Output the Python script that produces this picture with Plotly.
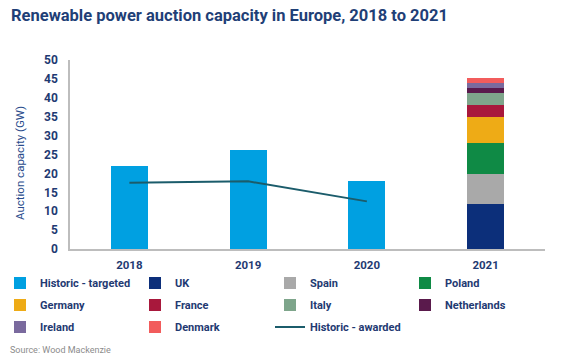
import plotly.graph_objects as go

years_hist = ["2018", "2019", "2020"]
hist_targeted = [22.0, 26.3, 18.1]
hist_awarded = [17.5, 17.9, 12.6]

year_2021 = ["2021"]
countries = ["UK", "Spain", "Poland", "Germany", "France", "Italy", "Netherlands", "Ireland", "Denmark"]
country_values = [11.9, 7.9, 8.2, 6.9, 3.3, 3.2, 1.2, 1.4, 1.2]
country_colors = ["#0c2f7a", "#a9a9a9", "#0f8a45", "#eeab16", "#a8183c", "#7ea58b", "#5a1a4c", "#7a6a9e", "#f25c5c"]
country_legend_rows = ["legend", "legend", "legend", "legend2", "legend2", "legend2", "legend2", "legend3", "legend3"]

categories = ["2018", "2019", "2020", "2021"]
y_ticks = [0, 5, 10, 15, 20, 25, 30, 35, 40, 45, 50]

FONT = "Roboto"
DARK = "#1f3a72"
W, H = 568, 360
L, R, T, B = 70, 23, 60, 111
PW, PH = W - L - R, H - T - B

def px_x(px):
    return (px - L) / PW

def px_y(py):
    return (H - B - py) / PH

fig = go.Figure()
fig.add_trace(go.Bar(x=years_hist, y=hist_targeted, name="Historic - targeted", legend="legend",
                     marker=dict(color="#00a0e1", line=dict(width=0))))
for name, val, col, lg in zip(countries, country_values, country_colors, country_legend_rows):
    fig.add_trace(go.Bar(x=year_2021, y=[val], name=name, legend=lg,
                         marker=dict(color=col, line=dict(width=0))))
fig.add_trace(go.Scatter(x=years_hist, y=hist_awarded, name="Historic - awarded", legend="legend3",
                         mode="lines", line=dict(color="#1b5c6b", width=2)))

legend_common = dict(orientation="h", xref="paper", yref="paper",
                     x=px_x(0), xanchor="left", yanchor="middle",
                     entrywidth=90, entrywidthmode="pixels", itemwidth=30,
                     font=dict(family=FONT, size=11, color=DARK, weight="bold"),
                     traceorder="normal", bgcolor="rgba(0,0,0,0)")

fig.update_layout(
    width=W, height=H,
    margin=dict(l=L, r=R, t=T, b=B, autoexpand=False),
    paper_bgcolor="white", plot_bgcolor="white",
    barmode="stack", bargap=0.69,
    font=dict(family=FONT, color=DARK),
    title=dict(text="<b>Renewable power auction capacity in Europe, 2018 to 2021</b>",
               x=11/W, xanchor="left", xref="container",
               y=1 - 15/H, yanchor="middle", yref="container",
               font=dict(family=FONT, size=16.5, color="#1f3f77")),
    showlegend=True,
    legend=dict(legend_common, y=px_y(283)),
    legend2=dict(legend_common, y=px_y(305)),
    legend3=dict(legend_common, y=px_y(327)),
    xaxis=dict(type="category", categoryorder="array", categoryarray=categories,
               showline=True, linecolor="#bdbdbd", linewidth=1.5, ticks="",
               ticklabelstandoff=4,
               showgrid=False, tickfont=dict(family=FONT, size=11.5, color=DARK, weight="bold")),
    yaxis=dict(range=[0, 50], tickvals=y_ticks, showline=True, linecolor="#bdbdbd",
               linewidth=1.5, showgrid=False, zeroline=False, ticks="",
               ticklabelstandoff=8,
               tickfont=dict(family=FONT, size=12, color=DARK, weight="bold")),
    annotations=[
        dict(text="Auction capacity (GW)", textangle=-90, xref="paper", yref="paper",
             x=px_x(20), y=px_y(163), xanchor="center", yanchor="middle",
             showarrow=False, font=dict(family=FONT, size=11.5, color="#2a4c8c")),
        dict(text="Source: Wood Mackenzie", xref="paper", yref="paper",
             x=px_x(8), y=px_y(350), xanchor="left", yanchor="middle",
             showarrow=False, font=dict(family=FONT, size=9, color="#8c8c8c")),
    ],
)

fig.write_html("out.html", config={"displayModeBar": False},
               post_script="document.body.style.margin='0';")
